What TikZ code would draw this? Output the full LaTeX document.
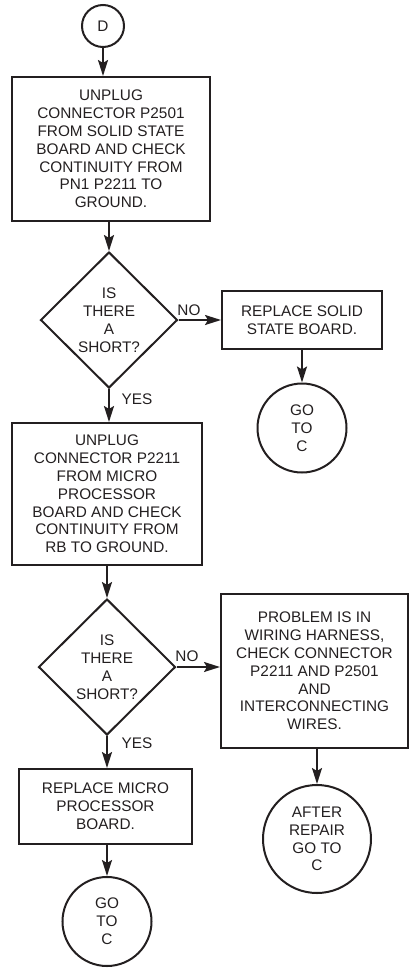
\documentclass[tikz,border=0pt]{standalone}
\usepackage{fontspec}
\setmainfont{Liberation Sans}
\usetikzlibrary{arrows.meta,shapes.geometric}
\definecolor{ink}{HTML}{231F20}
\tikzset{
  every node/.style={font=\fontsize{15.4}{17.9}\selectfont, text=ink, align=center, inner sep=0pt},
  stepbox/.style={draw=ink, line width=2bp, rectangle},
  decision/.style={draw=ink, line width=2bp, diamond, minimum width=137bp, minimum height=136bp},
  term/.style={draw=ink, line width=2bp, circle},
  arr/.style={draw=ink, line width=2bp, -{Stealth[length=16bp,width=10bp,inset=3bp]}},
  lbl/.style={font=\fontsize{15.4}{17.9}\selectfont}
}
\begin{document}
\begin{tikzpicture}[x=1bp,y=-1bp]
\useasboundingbox (0,0) rectangle (409,968);

% main column
\node[term, minimum size=42bp] (D) at (103,26) {D};
\node[stepbox, minimum width=198bp, minimum height=144bp] (box1) at (111,149)
  {UNPLUG\\CONNECTOR P2501\\FROM SOLID STATE\\BOARD AND CHECK\\CONTINUITY FROM\\PN1 P2211 TO\\GROUND.};
\node[decision] (dia1) at (109,320) {IS\\THERE\\A\\SHORT?};
\node[stepbox, minimum width=190bp, minimum height=142bp] (box2) at (107,494)
  {UNPLUG\\CONNECTOR P2211\\FROM MICRO\\PROCESSOR\\BOARD AND CHECK\\CONTINUITY FROM\\RB TO GROUND.};
\node[decision] (dia2) at (107,667) {IS\\THERE\\A\\SHORT?};
\node[stepbox, minimum width=173bp, minimum height=75bp] (rep2) at (105.5,806.5)
  {REPLACE MICRO\\PROCESSOR\\BOARD.};
\node[term, minimum size=89bp] (goc2) at (107,921.5) {GO\\TO\\C};

% right branches
\node[stepbox, minimum width=160bp, minimum height=58bp] (rep1) at (302,320)
  {REPLACE SOLID\\STATE BOARD.};
\node[term, minimum size=89bp] (goc1) at (302,428) {GO\\TO\\C};
\node[stepbox, minimum width=187bp, minimum height=154bp] (harness) at (314.5,671)
  {PROBLEM IS IN\\WIRING HARNESS,\\CHECK CONNECTOR\\P2211 AND P2501\\AND\\INTERCONNECTING\\WIRES.};
\node[term, minimum size=108bp] (after) at (317,839) {AFTER\\REPAIR\\GO TO\\C};

% connectors
\draw[arr] (D.south) -- (D.south |- box1.north);
\draw[arr] (box1.south -| dia1.north) -- (dia1.north);
\draw[arr] (dia1.east) -- (dia1.east -| rep1.west);
\draw[arr] (rep1.south -| goc1.north) -- (goc1.north);
\draw[arr] (dia1.south) -- (dia1.south |- box2.north);
\draw[arr] (box2.south -| dia2.north) -- (dia2.north);
\draw[arr] (dia2.east) -- (dia2.east -| harness.west);
\draw[arr] (harness.south -| after.north) -- (after.north);
\draw[arr] (dia2.south) -- (dia2.south |- rep2.north);
\draw[arr] (rep2.south -| goc2.north) -- (goc2.north);

% branch labels
\node[lbl] (no1) at (189,310) {NO};
\node[lbl] (yes1) at (137,399) {YES};
\node[lbl] (no2) at (187,656) {NO};
\node[lbl] (yes2) at (137,743) {YES};
\end{tikzpicture}
\end{document}
